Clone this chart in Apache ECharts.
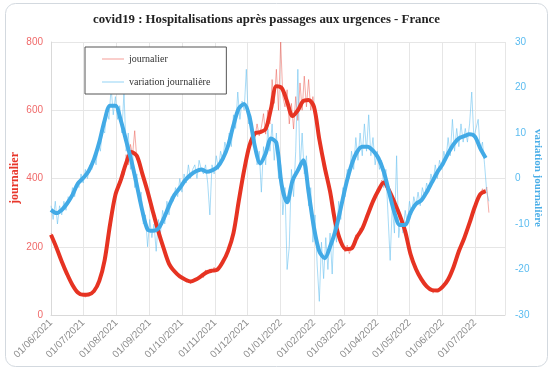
<!DOCTYPE html>
<html><head><meta charset="utf-8">
<script src="https://cdn.jsdelivr.net/npm/echarts@6/dist/echarts.min.js"></script>
<style>html,body{margin:0;padding:0;background:#fff}#c{width:555px;height:370px}</style>
</head><body><div id="c"></div><script>
// x axis: first day of the data, last day of the axis
const START = [2021, 5, 1];
const AXIS_END = [2022, 6, 29];
const RAW_STEP = 2;      // days between raw samples
const SMOOTH_STEP = 5;   // days between smoothed samples

// journalier (raw, every 2 days)
const RED_RAW = [
240,222,212,185,172,160,138,128,110,102,
90,80,72,62,58,64,52,62,58,68,
66,82,90,112,130,170,200,250,268,320,
345,375,380,420,410,470,440,500,470,540,
455,450,420,405,385,365,335,315,290,262,
248,225,200,182,160,155,138,130,125,118,
112,108,104,96,102,92,100,106,100,112,
118,110,132,120,135,128,140,128,138,150,
158,170,182,198,215,250,268,320,352,385,
440,450,500,505,535,520,560,525,550,590,
530,600,560,690,620,720,600,800,640,610,
660,560,620,545,640,570,680,600,700,610,
690,600,640,590,560,500,480,430,420,380,
370,320,290,250,240,205,200,185,205,180,
200,210,235,222,255,248,275,290,300,320,
340,345,370,360,395,385,378,362,350,340,
325,300,310,270,265,240,215,190,165,150,
132,125,105,100,90,88,76,75,64,74,
70,78,80,86,98,102,120,130,152,170,
185,200,222,230,255,270,285,305,325,340,
350,370,355,375,300];

// variation journalière (raw, every 2 days)
const BLUE_RAW = [
-6,-9,-5,-10,-6,-8,-5,-7,-4,-5,
-2,-4,-1,-2,1,-1,2,0,3,2,
5,3,8,6,11,10,15,13,20,14,
18,13,16,10,19,6,10,2,6,-2,
1,-5,-3,-10,-8,-15,-9,-13,-10,-16,
-9,-12,-7,-10,-5,-8,-4,-5,-2,-4,
0,-3,1,-1,3,0,2,3,0,4,
2,1,3,-1,-8,3,1,5,2,6,
4,8,6,10,7,14,11,19,13,17,
15,24,12,14,8,9,3,6,-3,7,
3,11,6,12,4,10,0,3,-8,-2,
-20,-15,2,-4,6,24,2,10,1,5,
-6,-2,-14,-8,-19,-27,-14,-22,-13,-20,
-12,-21,-9,-14,-5,-9,-2,-4,2,0,
6,2,9,4,10,5,12,6,14,5,
9,3,6,2,4,-2,2,-8,-18,-6,
-12,5,-13,-8,-12,-7,-10,-5,-8,-4,
-6,-3,-6,-2,-4,-1,-3,1,-1,3,
0,4,2,6,4,9,5,13,6,11,
7,12,8,11,8,12,19,9,11,13,
6,8,3,-3,-5];

// smoothed curves (every 5 days)
const RED_SMOOTH = [235,198,157,120,88,66,59,60,70,100,
161,265,352,395,445,478,466,415,362,302,
245,195,150,128,113,104,98,104,114,125,
130,133,155,188,240,335,425,497,532,536,
545,605,670,665,625,583,600,627,630,610,
515,433,362,270,215,193,195,228,253,293,
333,365,388,365,330,292,245,178,135,105,
84,73,72,83,104,140,187,225,270,318,
354,363];
const BLUE_SMOOTH = [-6.9,-7.6,-6.9,-5.5,-3.6,-1.1,0.1,1.6,4.2,8.0,
12.8,16.0,16.0,12.8,8.3,3.8,-1.5,-7.0,-11.2,-11.5,
-11.0,-8.8,-6.0,-3.6,-2.1,-0.4,0.8,1.6,2.0,1.5,
1.8,2.5,4.3,7.2,11.7,15.4,16.4,13.5,7.0,3.3,
5.5,8.8,7.8,-1.5,-5.2,-0.5,1.8,4.0,-3.0,-10.8,
-16.0,-17.5,-15.0,-11.5,-6.5,-1.2,3.0,5.8,7.0,7.0,
6.1,4.5,1.5,-3.0,-7.5,-10.2,-10.2,-7.5,-5.6,-4.8,
-3.0,-0.8,1.4,3.2,5.5,7.5,8.8,9.3,9.7,9.2,
6.6,4.5];

const LEFT_TICKS = {min:0, max:800, interval:200};
const RIGHT_TICKS = {min:-30, max:30, interval:10};
const LEFT_NAME = 'journalier';
const RIGHT_NAME = 'variation journalière';

function day(i){return new Date(START[0],START[1],START[2]+i).getTime();}
function pairs(arr, step){return arr.map((v,i)=>[day(i*step), v]);}
function pad(n){return (n<10?'0':'')+n;}
function fmt(v){const d=new Date(v);return pad(d.getDate())+'/'+pad(d.getMonth()+1)+'/'+d.getFullYear();}

const chart = echarts.init(document.getElementById('c'), null, {renderer:'canvas'});
const SERIF = '"Liberation Serif","DejaVu Serif",serif';
const SANS = '"Liberation Sans",Arial,sans-serif';
chart.setOption({
  animation:false,
  backgroundColor:'#fff',
  graphic:[
    {type:'rect', shape:{x:5.5,y:3.5,width:542,height:363,r:10}, style:{fill:'none',stroke:'#d3d9df',lineWidth:1}, z:-1},
    {type:'text', x:15, y:178, rotation:Math.PI/2,
     style:{text:LEFT_NAME, align:'center', verticalAlign:'middle', fill:'#e8362a',
       font:'bold 12px "Liberation Serif", serif'}},
    {type:'text', x:538, y:178, rotation:-Math.PI/2,
     style:{text:RIGHT_NAME, align:'center', verticalAlign:'middle', fill:'#4aaee8',
       font:'bold 11px "Liberation Serif", serif'}}
  ],
  title:{text:'covid19 : Hospitalisations après passages aux urgences - France', left:88, top:8,
    textStyle:{fontFamily:SERIF, fontWeight:'bold', fontSize:12.8, color:'#222'}},
  legend:{orient:'vertical', left:85, top:47, padding:[6,16,6,17], itemGap:11, itemWidth:22, itemHeight:1, icon:'rect',
    borderColor:'#555', borderWidth:1, backgroundColor:'#fff',
    textStyle:{fontFamily:SERIF, fontSize:10, color:'#333', lineHeight:12},
    data:['journalier','variation journalière']},
  grid:{left:51, right:50, top:42, bottom:55, outerBoundsMode:'none', containLabel:false},
  xAxis:{type:'time', min:day(0), max:new Date(AXIS_END[0],AXIS_END[1],AXIS_END[2]).getTime(),
    minInterval:28*864e5, maxInterval:31*864e5,
    axisLine:{lineStyle:{color:'#d9d9d9'}}, axisTick:{show:false},
    axisLabel:{rotate:45, fontSize:10, fontFamily:SANS, color:'#8c8c8c', margin:6, formatter:fmt, hideOverlap:false},
    splitLine:{show:true, lineStyle:{color:'#e6e6e6'}}},
  yAxis:[
    {type:'value', position:'left', min:LEFT_TICKS.min, max:LEFT_TICKS.max, interval:LEFT_TICKS.interval,
     axisLine:{show:true, lineStyle:{color:'#d9d9d9'}}, axisTick:{show:false},
     axisLabel:{fontSize:10, fontFamily:SANS, color:'#f06a6a', margin:8},
     splitLine:{lineStyle:{color:'#e6e6e6'}}},
    {type:'value', position:'right', min:RIGHT_TICKS.min, max:RIGHT_TICKS.max, interval:RIGHT_TICKS.interval,
     axisLine:{show:false}, axisTick:{show:false},
     axisLabel:{fontSize:10, fontFamily:SANS, color:'#5bbcf0', margin:10},
     splitLine:{show:false}}
  ],
  series:[
    {name:'journalier', type:'line', yAxisIndex:0, data:pairs(RED_RAW,RAW_STEP), symbol:'none',
     color:'rgba(236,90,80,0.6)', lineStyle:{width:1, color:'rgba(236,90,80,0.5)'}, z:2},
    {name:'variation journalière', type:'line', yAxisIndex:1, data:pairs(BLUE_RAW,RAW_STEP), symbol:'none',
     color:'rgba(110,195,240,0.75)', lineStyle:{width:1, color:'rgba(110,195,240,0.6)'}, z:3},
    {name:'journalier lissé', type:'line', yAxisIndex:0, data:pairs(RED_SMOOTH,SMOOTH_STEP), symbol:'none', smooth:0.3,
     color:'#e63322', lineStyle:{width:4, color:'#e63322'}, z:4},
    {name:'variation lissée', type:'line', yAxisIndex:1, data:pairs(BLUE_SMOOTH,SMOOTH_STEP), symbol:'none', smooth:0.3,
     color:'#42aae6', lineStyle:{width:4, color:'#42aae6'}, z:5}
  ]
});
</script></body></html>
